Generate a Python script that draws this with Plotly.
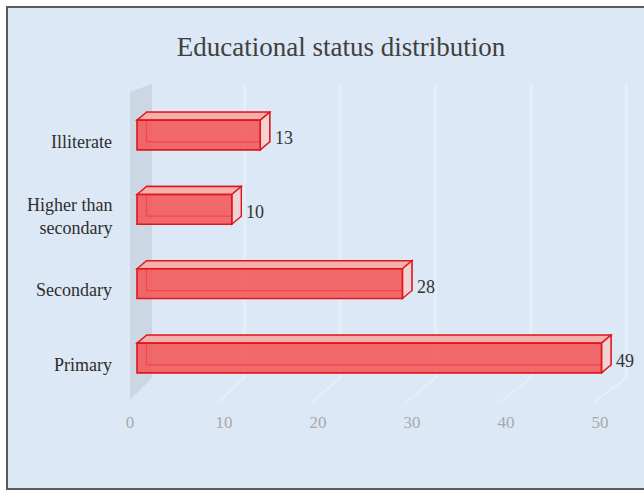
import plotly.graph_objects as go

# ---- data ----
categories = ["Primary", "Secondary", "Higher than<br>secondary", "Illiterate"]
values = [49, 28, 10, 13]
tick_values = [0, 10, 20, 30, 40, 50]
title_text = "Educational status distribution"

# ---- layout geometry (pixels) ----
W, H = 644, 491
L, R, T, B = 120, 630, 80, 410
X0_PX, X_SCALE = 137, 9.48          # front face: value 0 position, px per unit
Y0_PX, Y_SCALE = 358, 74.33         # category 0 centre, px per category
xr = [(L - X0_PX) / X_SCALE, (R - X0_PX) / X_SCALE]
yr = [-(B - Y0_PX) / Y_SCALE, (Y0_PX - T) / Y_SCALE]

TICK0_PX, TICK_SCALE = 130, 9.4     # tick labels (front floor edge)
xr2 = [(L - TICK0_PX) / TICK_SCALE, (R - TICK0_PX) / TICK_SCALE]

BACK0_PX, BACK_SCALE = 149, 9.55    # back wall gridlines


def pxx(px):
    return (px - L) / (R - L)


def pxy(py):
    return (B - py) / (B - T)


half = 0.2                 # half bar thickness (category units)
dx = 9.5 / X_SCALE         # depth offset in value units
dy = 8.0 / Y_SCALE         # depth offset in category units

BG = "#dce8f5"
FRONT = "rgba(245,80,80,0.84)"
EDGE = "#e0161e"
TOP = "#f5b0ab"
SIDE = "#f1d2d2"

fig = go.Figure()

fig.add_trace(go.Bar(
    x=values, y=list(range(len(values))), orientation="h", width=2 * half,
    marker=dict(color=FRONT, line=dict(color=EDGE, width=1.6)),
    hoverinfo="skip", xaxis="x", yaxis="y",
))

# invisible trace for tick axis
fig.add_trace(go.Scatter(x=[0], y=[0], mode="markers", marker=dict(opacity=0),
                         xaxis="x2", yaxis="y", hoverinfo="skip", showlegend=False))

shapes = []
# outer chart border / background
shapes.append(dict(type="rect", xref="paper", yref="paper",
                   x0=pxx(7), x1=pxx(W + 10), y0=pxy(7), y1=pxy(489),
                   fillcolor=BG, line=dict(color="#5a5a5a", width=2), layer="below"))
# side wall
wall = [(130, 92), (152, 84), (152, 378), (130, 400)]
path = "M " + " L ".join(f"{pxx(a)},{pxy(b)}" for a, b in wall) + " Z"
shapes.append(dict(type="path", xref="paper", yref="paper", path=path,
                   fillcolor="rgba(185,195,208,0.45)", line=dict(width=0), layer="below"))
# back gridlines + floor lines
for v in tick_values[1:]:
    xb = BACK0_PX + v * BACK_SCALE
    xf = TICK0_PX + v * TICK_SCALE - 6
    shapes.append(dict(type="line", xref="paper", yref="paper",
                       x0=pxx(xb), x1=pxx(xb), y0=pxy(84), y1=pxy(378),
                       line=dict(color="rgba(255,255,255,0.28)", width=3), layer="below"))
    shapes.append(dict(type="line", xref="paper", yref="paper",
                       x0=pxx(xb), x1=pxx(xf), y0=pxy(378), y1=pxy(402),
                       line=dict(color="rgba(255,255,255,0.3)", width=2), layer="below"))

for i, v in enumerate(values):
    c = i
    # back face outline (seen through)
    shapes.append(dict(type="rect", xref="x", yref="y",
                       x0=dx, x1=v + dx, y0=c - half + dy, y1=c + half + dy,
                       line=dict(color=EDGE, width=1.2), fillcolor="rgba(0,0,0,0)",
                       layer="between"))
    # top face
    p = (f"M 0,{c + half} L {v},{c + half} L {v + dx},{c + half + dy} "
         f"L {dx},{c + half + dy} Z")
    shapes.append(dict(type="path", xref="x", yref="y", path=p, fillcolor=TOP,
                       line=dict(color=EDGE, width=1.4), layer="between"))
    # side face
    p = (f"M {v},{c - half} L {v + dx},{c - half + dy} L {v + dx},{c + half + dy} "
         f"L {v},{c + half} Z")
    shapes.append(dict(type="path", xref="x", yref="y", path=p, fillcolor=SIDE,
                       line=dict(color=EDGE, width=1.4), layer="between"))

annotations = []
for i, v in enumerate(values):
    annotations.append(dict(x=v + dx, y=i - 0.04, xref="x", yref="y", text=str(v),
                            showarrow=False, xanchor="left", yanchor="middle", xshift=3,
                            font=dict(family="Liberation Serif", size=18, color="#333333")))
for i, cat in enumerate(categories):
    annotations.append(dict(x=pxx(114), y=i - 0.09, xref="paper", yref="y", text=cat,
                            showarrow=False, xanchor="right", yanchor="middle", align="right",
                            font=dict(family="Liberation Serif", size=18, color="#2e2e2e")))

fig.update_layout(
    width=W, height=H,
    margin=dict(l=L, r=W - R, t=T, b=H - B),
    paper_bgcolor="white", plot_bgcolor="rgba(0,0,0,0)",
    showlegend=False, barmode="overlay",
    title=dict(text=title_text, x=341 / W, xref="container", xanchor="center",
               y=1 - 47 / H, yref="container", yanchor="middle",
               font=dict(family="Liberation Serif", size=27, color="#404040")),
    xaxis=dict(range=xr, showgrid=False, zeroline=False, showline=False,
               showticklabels=False, fixedrange=True),
    xaxis2=dict(range=xr2, overlaying="x", side="bottom", showgrid=False, zeroline=False,
                showline=False, tickvals=tick_values, ticks="",
                tickfont=dict(family="Liberation Serif", size=17, color="#a8a8a8"),
                fixedrange=True),
    yaxis=dict(range=yr, showgrid=False, zeroline=False, showline=False,
               showticklabels=False, fixedrange=True),
    shapes=shapes, annotations=annotations,
)

fig.write_html("out.html", config={"displayModeBar": False},
               post_script="document.body.style.margin='0px';")
